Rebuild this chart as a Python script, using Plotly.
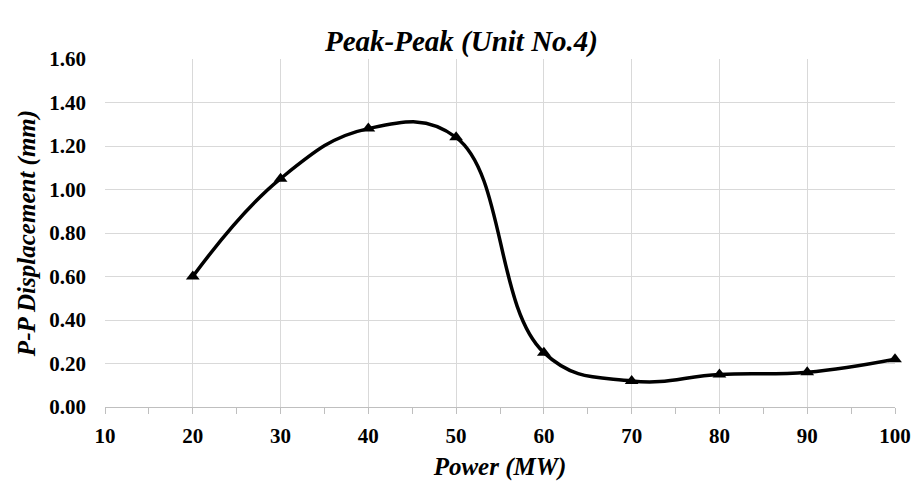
import plotly.graph_objects as go

power_mw = [20, 30, 40, 50, 60, 70, 80, 90, 100]
pp_displacement_mm = [0.60, 1.05, 1.28, 1.24, 0.25, 0.12, 0.15, 0.16, 0.22]
y_tick_values = [0.0, 0.2, 0.4, 0.6, 0.8, 1.0, 1.2, 1.4, 1.6]
y_tick_labels = ["0.00", "0.20", "0.40", "0.60", "0.80", "1.00", "1.20", "1.40", "1.60"]
x_tick_values = [10, 20, 30, 40, 50, 60, 70, 80, 90, 100]

font_family = "Liberation Serif, Times New Roman, serif"

fig = go.Figure()
fig.add_trace(go.Scatter(
    x=power_mw, y=pp_displacement_mm,
    mode="lines+markers",
    line=dict(color="black", width=3.5, shape="spline", smoothing=1.2),
    marker=dict(symbol="triangle-up", size=12, color="black"),
    showlegend=False,
    cliponaxis=False,
))

fig.update_layout(
    width=923, height=488,
    margin=dict(l=105, r=20, t=59, b=78),
    paper_bgcolor="white", plot_bgcolor="white",
    title=dict(text="<b><i>Peak-Peak (Unit No.4)</i></b>", x=0.5, xanchor="center",
               y=1 - 41 / 488, yanchor="middle",
               font=dict(family=font_family, size=29, color="black")),
    font=dict(family=font_family, color="black"),
)

fig.update_xaxes(
    range=[10, 100], tickvals=x_tick_values,
    ticktext=[f"<b>{v}</b>" for v in x_tick_values],
    tickfont=dict(size=21, family=font_family, color="black"),
    showgrid=True, gridcolor="#d9d9d9", gridwidth=1,
    showline=True, linecolor="#bfbfbf", linewidth=1,
    ticks="outside", ticklen=6, tickcolor="#bfbfbf",
    ticklabelstandoff=4,
    minor=dict(dtick=5, tick0=5, ticks="outside", ticklen=6, tickcolor="#bfbfbf", showgrid=False),
    zeroline=False,
    title=dict(text="<b><i>Power (MW)</i></b>", font=dict(size=25, family=font_family, color="black"),
               standoff=10),
)
fig.update_yaxes(
    range=[0, 1.6], tickvals=y_tick_values,
    ticktext=[f"<b>{t}</b>" for t in y_tick_labels],
    tickfont=dict(size=21, family=font_family, color="black"),
    showgrid=True, gridcolor="#d9d9d9", gridwidth=1,
    showline=False, zeroline=False, ticks="",
    ticklabelstandoff=18,
    title=dict(text="<b><i>P-P Displacement (mm)</i></b>", font=dict(size=25, family=font_family, color="black"),
               standoff=6),
)

fig.write_html("out.html", config={"displayModeBar": False},
               post_script="document.body.style.margin='0';document.body.style.overflow='hidden';")
